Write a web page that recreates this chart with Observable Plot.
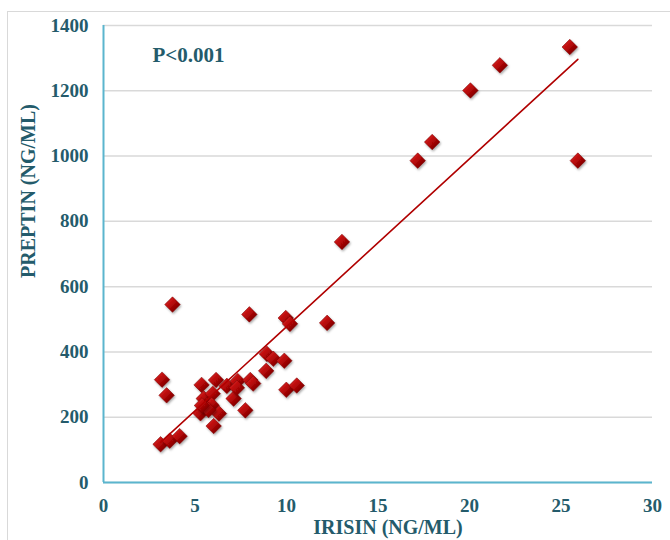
<!DOCTYPE html>
<html>
<head>
<meta charset="utf-8">
<script src="https://cdn.jsdelivr.net/npm/d3@7"></script>
<script src="https://cdn.jsdelivr.net/npm/@observablehq/plot@0.6"></script>
<style>
  html, body { margin: 0; padding: 0; background: #fff; }
  #wrap { position: relative; width: 670px; height: 540px; overflow: hidden; }
  #frame { position: absolute; left: 7px; top: 11px; width: 680px; height: 540px; border: 1px solid #d9d9d9; box-sizing: border-box; }
  #chart { position: absolute; left: 0; top: 0; }
</style>
</head>
<body>
<div id="wrap"><div id="frame"></div><div id="chart"></div></div>
<script>
// Irisin (ng/mL) values
const irisin = [3.12, 3.62, 4.16, 3.20, 3.45, 3.77, 5.36, 6.15, 6.74, 7.33,
  5.48, 5.97, 7.11, 5.30, 5.91, 6.31, 5.74, 5.38, 6.02, 7.75,
  8.93, 9.28, 9.88, 8.89, 8.02, 8.18, 9.99, 10.56, 7.97, 9.96,
  10.19, 12.22, 13.03, 17.17, 17.96, 20.05, 21.66, 25.48, 25.92, 7.29];
// Preptin (ng/mL) values
const preptin = [117, 128, 142, 315, 267, 545, 299, 314, 296, 311,
  257, 272, 257, 212, 237, 211, 222, 236, 173, 221,
  394, 379, 373, 342, 314, 303, 284, 297, 515, 504,
  486, 489, 737, 986, 1043, 1201, 1278, 1334, 986, 290];
const xTicks = [0, 5, 10, 15, 20, 25, 30];
const yTicks = [0, 200, 400, 600, 800, 1000, 1200, 1400];
const pLabel = ["P<0.001"];
const xTitle = ["IRISIN (NG/ML)"];
const yTitle = ["PREPTIN (NG/ML)"];

const data = irisin.map((x, i) => ({x, y: preptin[i]}));
const textColor = "#245B6B";
const axisColor = "#5BB5CE";

const chart = Plot.plot({
  width: 670,
  height: 540,
  marginLeft: 103,
  marginRight: 18,
  marginTop: 25,
  marginBottom: 58,
  style: {fontFamily: "'Liberation Serif', 'Times New Roman', serif", fontSize: "19px", fontWeight: "bold", color: textColor, background: "transparent"},
  x: {domain: [0, 30], ticks: xTicks},
  y: {domain: [0, 1400], ticks: yTicks},
  marks: [
    Plot.gridY(yTicks, {stroke: "#d9d9d9", strokeOpacity: 1, strokeWidth: 1.5}),
    Plot.axisX(xTicks, {tickSize: 0, tickPadding: 16, label: null, tickFormat: (d) => String(d)}),
    Plot.axisY(yTicks, {tickSize: 0, tickPadding: 15, label: null, tickFormat: (d) => String(d)}),
    Plot.ruleX([0], {stroke: axisColor, strokeWidth: 2}),
    Plot.ruleY([0], {stroke: axisColor, strokeWidth: 2}),
    Plot.dot(data, {x: "x", y: "y", symbol: "diamond2", r: 7, fill: "url(#dgrad)", stroke: "#7a0000", strokeWidth: 0.5}),
    Plot.linearRegressionY(data, {x: "x", y: "y", stroke: "#B00000", strokeWidth: 1.6, ci: 0}),
    Plot.text(pLabel, {frameAnchor: "top-left", dx: 49, dy: 30, textAnchor: "start", lineAnchor: "middle", fontSize: 21, fontWeight: "bold", fill: textColor}),
    Plot.text(xTitle, {frameAnchor: "bottom", dx: 10, dy: 45, textAnchor: "middle", lineAnchor: "middle", fontSize: 20, fontWeight: "bold", fill: textColor}),
    Plot.text(yTitle, {frameAnchor: "left", dx: -75, dy: -63, rotate: -90, textAnchor: "middle", lineAnchor: "middle", fontSize: 20, fontWeight: "bold", fill: textColor})
  ]
});

const svg = d3.select(chart);
const defs = svg.insert("defs", ":first-child");
const g = defs.append("linearGradient").attr("id", "dgrad")
  .attr("x1", "0").attr("y1", "0").attr("x2", "1").attr("y2", "1");
g.append("stop").attr("offset", "0%").attr("stop-color", "#e23030");
g.append("stop").attr("offset", "45%").attr("stop-color", "#b80808");
g.append("stop").attr("offset", "100%").attr("stop-color", "#5c0000");
const f = defs.append("filter").attr("id", "dshadow").attr("x", "-50%").attr("y", "-50%").attr("width", "200%").attr("height", "200%");
f.append("feDropShadow").attr("dx", 1).attr("dy", 1.5).attr("stdDeviation", 1).attr("flood-color", "#000").attr("flood-opacity", 0.35);
svg.selectAll("g[aria-label='dot'] path").attr("filter", "url(#dshadow)");

document.getElementById("chart").appendChild(chart);
</script>
</body>
</html>
